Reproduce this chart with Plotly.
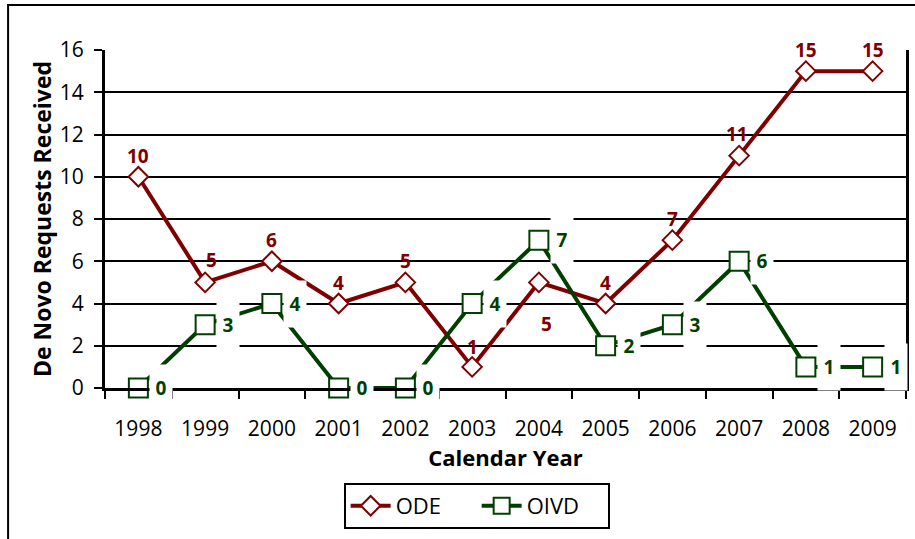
import plotly.graph_objects as go

years = ["1998", "1999", "2000", "2001", "2002", "2003", "2004", "2005", "2006", "2007", "2008", "2009"]
ode = [10, 5, 6, 4, 5, 1, 5, 4, 7, 11, 15, 15]
oivd = [0, 3, 4, 0, 0, 4, 7, 2, 3, 6, 1, 1]

# label offsets (pixels) for the ODE data labels
ode_xshift = [0, 6, 0, 0, 0, 0, 8, 0, 0, -2, 0, 0]
ode_yshift = [21, 22, 21, 21, 21, 20, -42, 21, 21, 22, 21, 21]

RED = "#7F0000"
GREEN = "#003F00"
FONT = "Open Sans"

fig = go.Figure()
fig.add_trace(go.Scatter(
    x=years, y=ode, name="ODE", mode="lines+markers",
    line=dict(color=RED, width=4),
    marker=dict(symbol="diamond", size=15, color="white", line=dict(color=RED, width=2)),
    cliponaxis=False,
))
fig.add_trace(go.Scatter(
    x=years, y=oivd, name="OIVD", mode="lines+markers",
    line=dict(color=GREEN, width=4),
    marker=dict(symbol="square", size=19, color="white", line=dict(color=GREEN, width=2)),
    cliponaxis=False,
))

annotations = []
for i, v in enumerate(ode):
    annotations.append(dict(
        x=i, y=v, xref="x", yref="y", text=f"<b>{v}</b>", showarrow=False,
        xshift=ode_xshift[i], yshift=ode_yshift[i],
        font=dict(family=FONT, size=19, color=RED),
    ))
for i, v in enumerate(oivd):
    annotations.append(dict(
        x=i, y=v, xref="x", yref="y", text=f"<b>{v}</b>", showarrow=False,
        xshift=23, yshift=0, bgcolor="white", width=20, height=44,
        font=dict(family=FONT, size=19, color=GREEN),
    ))

fig.update_layout(
    width=915, height=539,
    margin=dict(l=105, r=9, t=50, b=151),
    paper_bgcolor="white", plot_bgcolor="white",
    font=dict(family=FONT, size=21, color="black"),
    showlegend=True,
    legend=dict(
        orientation="h", x=0.464, xanchor="center", y=-0.281, yanchor="top",
        bordercolor="black", borderwidth=2, font=dict(family=FONT, size=22),
        itemwidth=40, entrywidth=76, entrywidthmode="pixels",
    ),
    annotations=annotations,
    shapes=[dict(type="rect", xref="paper", yref="paper",
                 x0=-0.121, x1=1.2, y0=-1.0, y1=1.133,
                 line=dict(color="black", width=2), layer="below")],
    xaxis=dict(
        type="category", range=[-0.5, 11.5], automargin=False,
        showline=True, linecolor="black", linewidth=2.5, mirror=False,
        ticks="outside", tickson="boundaries", ticklen=8, tickwidth=2, tickcolor="black",
        showgrid=False, zeroline=False,
        tickfont=dict(family=FONT, size=21), ticklabelstandoff=20,
        title=dict(text="<b>Calendar Year</b>", font=dict(family=FONT, size=22), standoff=9),
    ),
    yaxis=dict(
        range=[0, 16], dtick=2, automargin=False,
        showline=True, linecolor="black", linewidth=3, mirror=True,
        ticks="outside", ticklen=8, tickwidth=2, tickcolor="black",
        showgrid=True, gridcolor="black", gridwidth=1.5, zeroline=False,
        tickfont=dict(family=FONT, size=21), ticklabelstandoff=6,
        title=dict(text="<b>De Novo Requests Received</b>", font=dict(family=FONT, size=23), standoff=2),
    ),
)

fig.write_html("out.html", config={"displayModeBar": False},
               post_script="document.body.style.margin='0px';")
